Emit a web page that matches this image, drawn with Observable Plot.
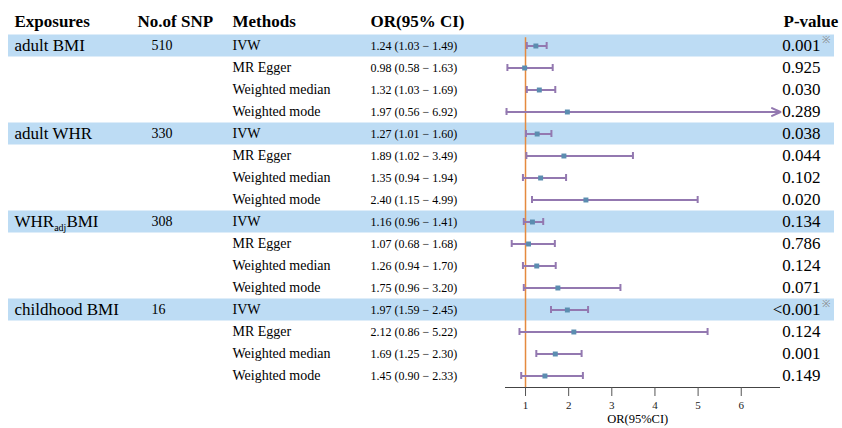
<!DOCTYPE html>
<html><head><meta charset="utf-8">
<script src="https://cdn.jsdelivr.net/npm/d3@7"></script>
<script src="https://cdn.jsdelivr.net/npm/@observablehq/plot@0.6"></script>
<style>body{margin:0;background:#fff}</style>
</head><body><div id="chart"></div>
<script>
// ---- data ----
const exposures = ["adult BMI", "adult WHR", "WHRadjBMI", "childhood BMI"];
const snps = [510, 330, 308, 16];
const methods = ["IVW", "MR Egger", "Weighted median", "Weighted mode"];
const orValues = [1.24, 0.98, 1.32, 1.97, 1.27, 1.89, 1.35, 2.40, 1.16, 1.07, 1.26, 1.75, 1.97, 2.12, 1.69, 1.45];
const ciLow    = [1.03, 0.58, 1.03, 0.56, 1.01, 1.02, 0.94, 1.15, 0.96, 0.68, 0.94, 0.96, 1.59, 0.86, 1.25, 0.90];
const ciHigh   = [1.49, 1.63, 1.69, 6.92, 1.60, 3.49, 1.94, 4.99, 1.41, 1.68, 1.70, 3.20, 2.45, 5.22, 2.30, 2.33];
const pValues  = ["0.001", "0.925", "0.030", "0.289", "0.038", "0.044", "0.102", "0.020", "0.134", "0.786", "0.124", "0.071", "<0.001", "0.124", "0.001", "0.149"];
const starred  = [true, false, false, false, false, false, false, false, false, false, false, false, true, false, false, false];
const xTicks = [1, 2, 3, 4, 5, 6];
const headers = ["Exposures", "No.of SNP", "Methods", "OR(95% CI)", "P-value"];
const axisTitle = "OR(95%CI)";

// ---- layout / style ----
const xDomain = [0.536, 6.91];
const col = {exp: 14, snp: 151, method: 232, or: 370, pHead: 783, pEnd: 820};
const C = {band: "#bddcf4", ref: "#e58a3e", bar: "#9378b0", pt: "#5b8db0"};
const font = "Liberation Serif, Times New Roman, serif";
const ML = 8;
const axisRow = 16 + 11.5 / 22;

const fmt = d3.format(".2f");
const rows = orValues.map((v, i) => ({
  row: i + 1,
  method: methods[i % 4],
  or: v, lo: ciLow[i], hi: ciHigh[i],
  hiC: Math.min(ciHigh[i], xDomain[1]),
  clipped: ciHigh[i] > xDomain[1],
  label: `${fmt(v)} (${fmt(ciLow[i])} \u2212 ${fmt(ciHigh[i])})`,
  p: pValues[i], star: starred[i]
}));
const groupRows = exposures.map((e, g) => ({row: g * 4 + 1, name: e, snp: snps[g]}));
const caps = rows.flatMap(d => d.clipped ? [{x: d.lo, row: d.row}] : [{x: d.lo, row: d.row}, {x: d.hi, row: d.row}]);

const txt = (data, o) => Plot.text(data, {frameAnchor: "left", fontFamily: font, fill: "#000", textAnchor: "start", ...o, dx: o.dx - ML});

const chart = Plot.plot({
  width: 842, height: 428,
  marginLeft: ML, marginRight: 8, marginTop: 0, marginBottom: 41,
  x: {domain: xDomain, range: [505, 780]},
  y: {domain: [1, 16], range: [45.5, 375.5], axis: null},
  style: {fontFamily: font, background: "#fff"},
  marks: [
    Plot.rect(groupRows, {y1: d => d.row - 0.5, y2: d => d.row + 0.5, fill: C.band}),
    Plot.ruleX([1], {y1: 0.62, y2: axisRow, stroke: C.ref, strokeWidth: 1.5}),
    Plot.ruleY([axisRow], {x1: xDomain[0], x2: xDomain[1], stroke: "#444", strokeWidth: 1}),
    Plot.axisX({ticks: xTicks, tickFormat: "d", tickSize: 9, tickPadding: 5, fontSize: 11, fontFamily: font, stroke: "#555", fill: "#222", label: null}),
    Plot.text([axisTitle], {x: () => (xTicks[2] + xTicks[3]) / 2 + 0.1, frameAnchor: "bottom", dy: 35, fontSize: 12.5, fontFamily: font, fill: "#000"}),
    Plot.link(rows.filter(d => !d.clipped), {x1: "lo", x2: "hi", y1: "row", y2: "row", stroke: C.bar, strokeWidth: 2}),
    Plot.arrow(rows.filter(d => d.clipped), {x1: "lo", x2: "hiC", y1: "row", y2: "row", stroke: C.bar, strokeWidth: 2, headLength: 7, headAngle: 50}),
    Plot.ruleX(caps, {x: "x", y1: d => d.row - 0.16, y2: d => d.row + 0.16, stroke: C.bar, strokeWidth: 2}),
    Plot.dot(rows, {x: "or", y: "row", symbol: "square", r: 2.8, fill: C.pt, stroke: "none"}),
    // headers
    txt([headers[0]], {y: () => 0, dy: -2, dx: col.exp, fontSize: 17, fontWeight: "bold"}),
    txt([headers[1]], {y: () => 0, dy: -2, dx: 137, fontSize: 17, fontWeight: "bold"}),
    txt([headers[2]], {y: () => 0, dy: -2, dx: col.method, fontSize: 17, fontWeight: "bold"}),
    txt([headers[3]], {y: () => 0, dy: -2, dx: col.or, fontSize: 17, fontWeight: "bold"}),
    txt([headers[4]], {y: () => 0, dy: -2, dx: col.pHead, fontSize: 17, fontWeight: "bold"}),
    // columns
    txt(groupRows, {y: "row", text: "name", dx: col.exp, fontSize: 17}),
    txt(groupRows, {y: "row", text: "snp", dx: col.snp, fontSize: 14}),
    txt(rows, {y: "row", text: "method", dx: col.method, fontSize: 14}),
    txt(rows, {y: "row", text: "label", dx: col.or, fontSize: 12}),
    txt(rows, {y: "row", text: "p", dx: col.pEnd, fontSize: 17, textAnchor: "end"}),
    txt(rows.filter(d => d.star), {y: "row", text: () => "\u203B", dx: col.pEnd + 1, dy: -6, fontSize: 10, fill: "#888"})
  ]
});
document.getElementById("chart").appendChild(chart);

// subscript for WHR_adj BMI
chart.querySelectorAll("text").forEach(t => {
  if (t.textContent === "WHRadjBMI") {
    t.textContent = "";
    const ns = "http://www.w3.org/2000/svg";
    const parts = [["WHR", null, null], ["adj", "10", "4"], ["BMI", "17", "-4"]];
    parts.forEach(([s, fs, dy]) => {
      const ts = document.createElementNS(ns, "tspan");
      ts.textContent = s;
      if (fs) ts.setAttribute("font-size", fs);
      if (dy) ts.setAttribute("dy", dy);
      t.appendChild(ts);
    });
  }
});
</script>
</body></html>
